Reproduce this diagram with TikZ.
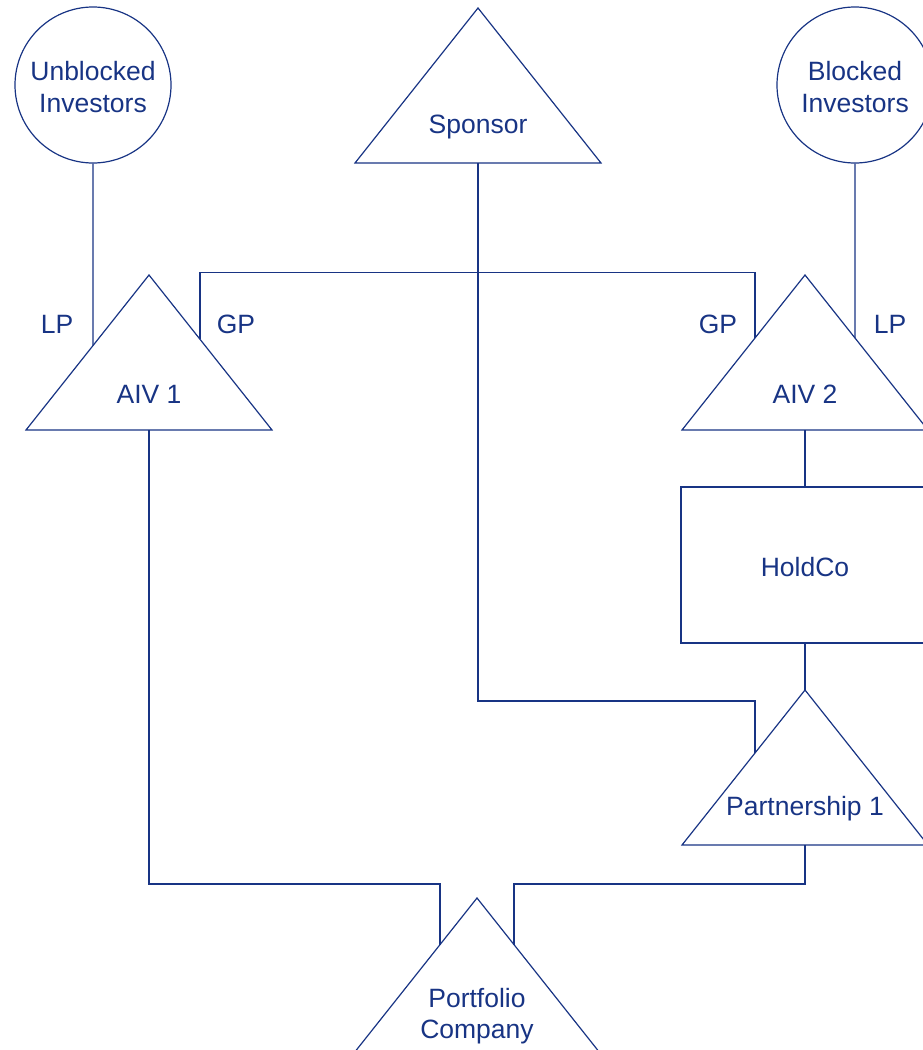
\documentclass[tikz,border=0pt]{standalone}
\usepackage{fontspec}
\setmainfont{Liberation Sans}
\usetikzlibrary{calc}
\definecolor{navy}{RGB}{24,52,132}
\tikzset{
  ink/.style={draw=navy, line width=1.2pt},
  lbl/.style={text=navy, font=\fontsize{26.5}{31.5}\selectfont, align=center, inner sep=0pt},
}
% upward-pointing triangle: name, apex x, apex y
\newcommand\drawtri[3]{%
  \coordinate (#1) at (#2,#3);
  \coordinate (#1L) at ($(#1)+(-123,155)$);
  \coordinate (#1R) at ($(#1)+(123,155)$);
  \coordinate (#1B) at ($(#1)+(0,155)$);
  \draw[ink, line join=miter] (#1) -- (#1R) -- (#1L) -- cycle;}
\begin{document}
\begin{tikzpicture}[x=1pt, y=-1pt]
\useasboundingbox (0,0) rectangle (923,1050);
\clip (0,0) rectangle (923,1050);

% investor pools
\node[ink, circle, minimum size=156pt, inner sep=0pt] (unb) at (93,85) {};
\node[lbl] (unbt) at ($(unb)+(0,2)$) {Unblocked\\Investors};
\node[ink, circle, minimum size=156pt, inner sep=0pt] (blk) at (855,85) {};
\node[lbl] (blkt) at ($(blk)+(0,2)$) {Blocked\\Investors};

% entities
\drawtri{spon}{478}{8}
\node[lbl] (spont) at ($(spon)+(0,119)$) {Sponsor};
\drawtri{aiv1}{149}{275}
\node[lbl] (aiv1t) at ($(aiv1)+(0,119)$) {AIV 1};
\drawtri{aiv2}{805}{275}
\node[lbl] (aiv2t) at ($(aiv2)+(0,119)$) {AIV 2};
\node[ink, rectangle, minimum width=248pt, minimum height=156pt, inner sep=0pt] (hold) at (805,565) {};
\node[lbl] (holdt) at ($(hold)+(0,2)$) {HoldCo};
\drawtri{part}{805}{690}
\node[lbl] (partt) at ($(part)+(0,119)$) {Partnership 1};
\drawtri{port}{477}{898}
\node[lbl] (portt) at ($(port)+(0,118)$) {Portfolio\\Company};

% ownership lines
\draw[ink] (unb.south) -- ($(aiv1)!0.4553!(aiv1L)$);
\draw[ink] ($(aiv1)!0.4146!(aiv1R)$) -- ++(0,-67) -| ($(aiv2)!0.4065!(aiv2L)$);
\draw[ink] (sponB) -- ++(0,538) -| ($(part)!0.4065!(partL)$);
\draw[ink] (blk.south) -- ($(aiv2)!0.4065!(aiv2R)$);
\draw[ink] (aiv2B) -- (hold.north);
\draw[ink] (hold.south) -- (part);
\draw[ink] (aiv1B) -- ++(0,454) -| ($(port)!0.3008!(portL)$);
\draw[ink] (partB) -- ++(0,39) -| ($(port)!0.3008!(portR)$);

% interest labels
\node[lbl] (lp1) at (57,324) {LP};
\node[lbl] (gp1) at (236,324) {GP};
\node[lbl] (gp2) at (718,324) {GP};
\node[lbl] (lp2) at (890,324) {LP};
\end{tikzpicture}
\end{document}
